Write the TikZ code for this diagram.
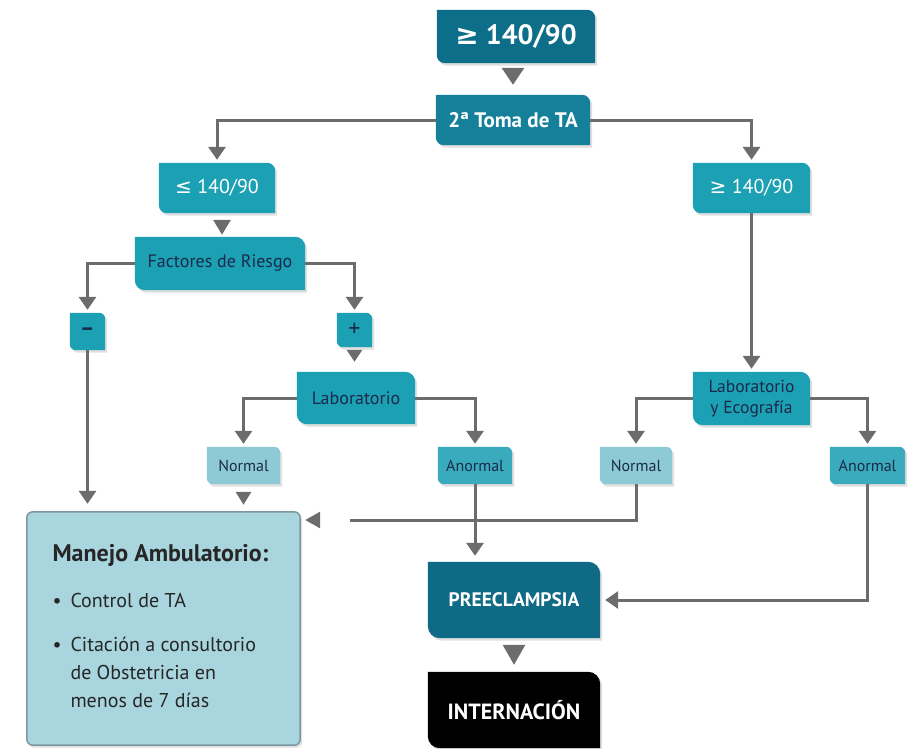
\documentclass[tikz,border=0pt]{standalone}
\usepackage{fontspec}
\setmainfont{PT Sans}
\newfontfamily\symfont{DejaVu Sans}
\usetikzlibrary{arrows.meta, shadows, backgrounds}

\definecolor{tealdark}{HTML}{0C6E89}
\definecolor{tealtoma}{HTML}{14809A}
\definecolor{teal}{HTML}{1CA0B4}
\definecolor{tealmid}{HTML}{3AABBC}
\definecolor{teallight}{HTML}{8ECAD6}
\definecolor{tealpre}{HTML}{0F6A86}
\definecolor{manfill}{HTML}{A9D5DE}
\definecolor{manborder}{HTML}{7E98A0}
\definecolor{linegray}{HTML}{6B6C6E}
\definecolor{navy}{HTML}{1B2A4A}

\begin{document}
\begin{tikzpicture}[
        x=1pt, y=1pt,
        every node/.style={
            align=center, inner sep=0pt,
            text=navy,
            font=\fontsize{18}{21}\selectfont
        },
        light/.style={text=white},
        small/.style={font=\fontsize{16}{19}\selectfont},
        shadowed/.style={drop shadow={shadow xshift=2pt, shadow yshift=-2.5pt, opacity=0.25}},
        conn/.style={draw=linegray, line width=3pt,
            -{Triangle[length=13pt, width=17pt]}, shorten >=3pt},
        gaparrow/.style 2 args={draw=linegray, line width=3pt,
            -{Triangle[length=#1, width=#2]}}
      ]
        \useasboundingbox (0,0) rectangle (911,-748);

        % top of the chart
        \node[light, font=\fontsize{28}{31}\selectfont\bfseries,
              minimum width=158pt, minimum height=53pt] (top) at (516,-36.5) {{\symfont ≥} 140/90};
        \node[light, font=\fontsize{21}{24}\selectfont\bfseries,
              minimum width=154pt, minimum height=50pt] (toma) at (513,-120) {2ª Toma de TA};

        % left branch
        \node[light, font=\fontsize{20}{23}\selectfont,
              minimum width=116pt, minimum height=50pt] (le) at (217,-188) {{\symfont ≤} 140/90};
        \node[minimum width=170pt, minimum height=53pt] (fr) at (220,-263.5) {Factores de Riesgo};
        \node[font=\fontsize{22}{24}\selectfont\bfseries,
              minimum width=35pt, minimum height=37pt] (minus) at (87.5,-331.5) {–};
        \node[font=\fontsize{24}{26}\selectfont,
              minimum width=35pt, minimum height=34pt] (plus) at (354.5,-330) {+};
        \node[minimum width=118pt, minimum height=52pt] (lab) at (356,-398) {Laboratorio};
        \node[small, minimum width=73pt, minimum height=37pt] (nl) at (243.5,-465.5) {Normal};
        \node[small, minimum width=74pt, minimum height=37pt] (al) at (475,-465.5) {Anormal};

        % right branch
        \node[light, font=\fontsize{20}{23}\selectfont,
              minimum width=117pt, minimum height=50pt] (ge) at (751.5,-188) {{\symfont ≥} 140/90};
        \node[font=\fontsize{17.5}{21}\selectfont,
              minimum width=117pt, minimum height=53pt] (labeco) at (751.5,-398.5) {Laboratorio\\y Ecografía};
        \node[small, minimum width=72pt, minimum height=37pt] (nr) at (636,-465.5) {Normal};
        \node[small, minimum width=75pt, minimum height=37pt] (ar) at (867.5,-465.5) {Anormal};

        % outcomes
        \node[font=\fontsize{20}{28}\selectfont, text=black!85,
              minimum width=273pt, minimum height=233pt] (man) at (163.5,-628.5) {%
            \begin{tabular}{@{}p{18pt}@{}p{204pt}@{}}
              \multicolumn{2}{@{}l@{}}{\fontsize{24}{28}\selectfont\bfseries Manejo Ambulatorio:}\\[18pt]
              \textbullet & Control de TA\\[16pt]
              \textbullet & Citación a consultorio\newline de Obstetricia en\newline menos de 7 días
            \end{tabular}};
        \node[light, font=\fontsize{19.5}{22}\selectfont\bfseries,
              minimum width=172pt, minimum height=76pt] (pre) at (514,-600) {PREECLAMPSIA};
        \node[light, font=\fontsize{22}{25}\selectfont\bfseries,
              minimum width=172pt, minimum height=76pt] (intern) at (514,-710) {INTERNACIÓN};

        \coordinate (gap) at (350,-520);

        % connectors
        \draw[conn] (toma.west) -| (le.north);
        \draw[conn] (toma.east) -| (ge.north);
        \draw[conn] (fr.west) -| (minus.north);
        \draw[conn] (fr.east) -| (plus.north);
        \draw[conn] (lab.west) -| (nl.north);
        \draw[conn] (lab.east) -| (al.north);
        \draw[conn] (labeco.west) -| (nr.north);
        \draw[conn] (labeco.east) -| (ar.north);
        \draw[conn] (ge.south) -- (labeco.north);
        \draw[conn, shorten >=8pt] (minus.south) -- (minus.south |- man.north);
        \draw[conn, shorten >=6pt] (al.south) -- (al.south |- pre.north);
        \draw[conn, shorten >=5pt] (ar.south) |- (pre.east);
        \draw[draw=linegray, line width=3pt] (nr.south) |- (gap);

        % free triangles between stacked boxes
        \draw[gaparrow={17pt}{22pt}, shorten <=5pt, shorten >=10pt] ([xshift=-3pt]top.south) -- ([xshift=-3pt]top.south |- toma.north);
        \draw[gaparrow={15pt}{17pt}, shorten <=7pt, shorten >=2pt] ([xshift=5pt]le.south) -- ([xshift=5pt]le.south |- fr.north);
        \draw[gaparrow={12pt}{15pt}, shorten <=3pt, shorten >=10pt] (plus.south) -- (plus.south |- lab.north);
        \draw[gaparrow={13pt}{15pt}, shorten <=8pt, shorten >=7pt] (nl.south) -- (nl.south |- man.north);
        \draw[gaparrow={20pt}{22pt}, shorten <=7pt, shorten >=7pt] (pre.south) -- (intern.north);
        \draw[gaparrow={15pt}{16pt}, shorten <=30pt, shorten >=5pt] (gap) -- (gap -| man.east);

        % box shapes behind the texts
        \begin{scope}[on background layer]
          \fill[manfill, draw=manborder, line width=1.5pt, shadowed, rounded corners=6pt]
            (man.north west) rectangle (man.south east);
          \foreach \n/\c/\r in {top/tealdark/8pt, toma/tealtoma/8pt, le/teal/8pt, ge/teal/8pt,
                                fr/teal/10pt, minus/teal/6pt, plus/teal/6pt, lab/teal/10pt,
                                labeco/teal/10pt, nl/teallight/6pt, al/tealmid/6pt,
                                nr/teallight/6pt, ar/tealmid/6pt, pre/tealpre/12pt, intern/black/12pt}
            \fill[fill=\c, shadowed] (\n.north west) -- ([xshift=-\r]\n.north east)
              arc[start angle=90, end angle=0, radius=\r] -- (\n.south east)
              -- ([xshift=\r]\n.south west) arc[start angle=270, end angle=180, radius=\r] -- cycle;
        \end{scope}
      \end{tikzpicture}
\end{document}
